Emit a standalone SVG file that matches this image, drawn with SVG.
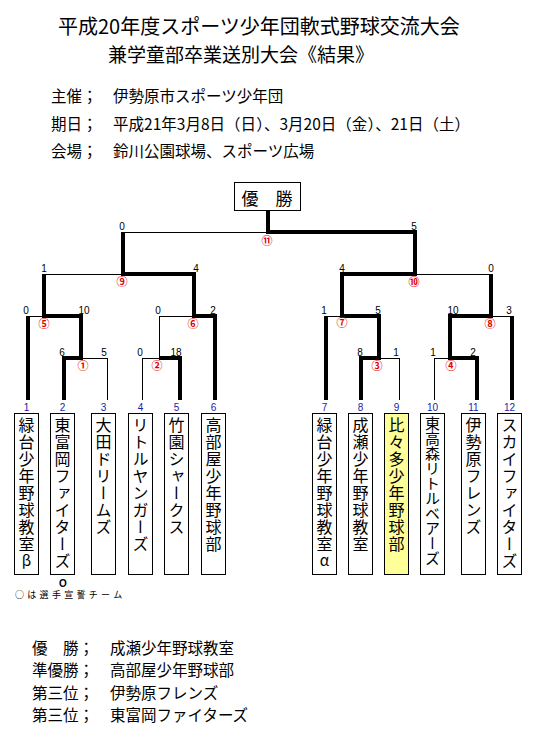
<svg xmlns="http://www.w3.org/2000/svg" width="537" height="731" viewBox="0 0 537 731">
<style>
.t{font-family:"Noto Sans CJK JP","Noto Sans CJK SC",sans-serif;fill:#000}
.title{font-size:20px}
.info{font-size:15.5px}
.sc{font-family:"Liberation Sans",Arial,sans-serif;font-size:10px;fill:#000;text-anchor:middle}
.no{font-family:"Liberation Sans",Arial,sans-serif;font-size:10px;fill:#1a1aa6;text-anchor:middle}
.m{font-family:"Noto Sans CJK JP",sans-serif;font-size:11px;font-weight:bold;fill:#e00000;text-anchor:middle}
.box{fill:#fff;stroke:#000;stroke-width:1}
.v{font-family:"Noto Sans CJK JP","Noto Sans CJK SC",sans-serif;font-size:16px;fill:#000;writing-mode:vertical-rl;letter-spacing:1px}
.g{font-family:"Noto Sans CJK JP",sans-serif;font-size:15px;fill:#000;text-anchor:middle}
.thick{fill:none;stroke:#000;stroke-width:4;stroke-linejoin:miter}
.thin{fill:none;stroke:#000;stroke-width:1;shape-rendering:crispEdges}
</style>
<rect width="537" height="731" fill="#fff"/>
<g id="title" class="t title">
<text x="58" y="34">平成20年度スポーツ少年団軟式野球交流大会</text>
<text x="108" y="62" style="font-size:19px">兼学童部卒業送別大会《結果》</text>
</g>
<g id="info" class="t info">
<text x="51" y="102">主催；</text><text x="113" y="102">伊勢原市スポーツ少年団</text>
<text x="51" y="130">期日；</text><text x="113" y="130" textLength="357" lengthAdjust="spacing">平成21年3月8日（日）、3月20日（金）、21日（土）</text>
<text x="51" y="157">会場；</text><text x="113" y="157">鈴川公園球場、スポーツ広場</text>
</g>
<g id="winner">
<rect x="234.5" y="182.5" width="66" height="28" class="box"/>
<text x="267" y="205" class="t" style="font-size:17px;text-anchor:middle">優　勝</text>
</g>
<g id="connectors">
<path class="thick" d="M268 210 V232 H415 V274 H342 V316 H379 V358 H361 V400"/>
<path class="thick" d="M123 232 V274 H194 V316 H215 V400"/>
<path class="thick" d="M44 274 V316 H81 V358 H64 V400"/>
<path class="thick" d="M28 316 V400"/>
<path class="thick" d="M159 358 H180 V400"/>
<path class="thick" d="M326 316 V400"/>
<path class="thick" d="M491 274 V316 H450 V358 H477 V400"/>
<path class="thick" d="M512 316 V400"/>
<path class="thin" d="M123 232 H268"/>
<path class="thin" d="M44 274 H123"/>
<path class="thin" d="M415 274 H491"/>
<path class="thin" d="M28 316 H44"/>
<path class="thin" d="M159 316 H194 M159 316 V358 M142 358 H159 M142 358 V400"/>
<path class="thin" d="M326 316 H342"/>
<path class="thin" d="M491 316 H512"/>
<path class="thin" d="M81 358 H107 V400"/>
<path class="thin" d="M379 358 H399 V400"/>
<path class="thin" d="M434 400 V358 H450"/>
</g>
<g id="scores">
<text class="sc" x="122" y="230">0</text><text class="sc" x="414" y="230">5</text>
<text class="sc" x="44" y="272">1</text><text class="sc" x="196" y="272">4</text>
<text class="sc" x="342" y="272">4</text><text class="sc" x="491" y="272">0</text>
<text class="sc" x="26" y="314">0</text><text class="sc" x="84" y="314">10</text>
<text class="sc" x="158" y="314">0</text><text class="sc" x="213" y="314">2</text>
<text class="sc" x="324" y="314">1</text><text class="sc" x="378" y="314">5</text>
<text class="sc" x="453" y="314">10</text><text class="sc" x="509" y="314">3</text>
<text class="sc" x="62" y="356">6</text><text class="sc" x="104" y="356">5</text>
<text class="sc" x="140" y="356">0</text><text class="sc" x="176" y="356">18</text>
<text class="sc" x="360" y="356">8</text><text class="sc" x="396" y="356">1</text>
<text class="sc" x="433" y="356">1</text><text class="sc" x="473" y="356">2</text>
</g>
<g id="matches">
<text class="m" x="267" y="245">⑪</text>
<text class="m" x="122" y="286">⑨</text>
<text class="m" x="414" y="286">⑩</text>
<text class="m" x="44" y="328">⑤</text>
<text class="m" x="193" y="328">⑥</text>
<text class="m" x="342" y="327">⑦</text>
<text class="m" x="490" y="328">⑧</text>
<text class="m" x="83" y="370">①</text>
<text class="m" x="157" y="370">②</text>
<text class="m" x="377" y="370">③</text>
<text class="m" x="451" y="370">④</text>
</g>
<g id="team1"><text class="no" x="26.5" y="411">1</text><rect class="box" x="14.5" y="413.5" width="24" height="161"/><text class="v" x="26.5" y="417">緑台少年野球教室</text><text class="g" x="26.5" y="566">β</text></g>
<g id="team2"><text class="no" x="62.5" y="411">2</text><rect class="box" x="50.5" y="413.5" width="24" height="161"/><text class="v" x="62.5" y="417">東富岡ファイターズ</text></g>
<g id="team3"><text class="no" x="103.5" y="411">3</text><rect class="box" x="91.5" y="413.5" width="24" height="161"/><text class="v" x="103.5" y="417">大田ドリームズ</text></g>
<g id="team4"><text class="no" x="140.5" y="411">4</text><rect class="box" x="128.5" y="413.5" width="24" height="161"/><text class="v" x="140.5" y="417">リトルヤンガーズ</text></g>
<g id="team5"><text class="no" x="176.5" y="411">5</text><rect class="box" x="164.5" y="413.5" width="24" height="161"/><text class="v" x="176.5" y="417">竹園シャークス</text></g>
<g id="team6"><text class="no" x="213.5" y="411">6</text><rect class="box" x="201.5" y="413.5" width="24" height="161"/><text class="v" x="213.5" y="417">高部屋少年野球部</text></g>
<g id="team7"><text class="no" x="324.5" y="411">7</text><rect class="box" x="312.5" y="413.5" width="24" height="161"/><text class="v" x="324.5" y="417">緑台少年野球教室</text><text class="g" x="324.5" y="566">α</text></g>
<g id="team8"><text class="no" x="360.5" y="411">8</text><rect class="box" x="348.5" y="413.5" width="24" height="161"/><text class="v" x="360.5" y="417">成瀬少年野球教室</text></g>
<g id="team9"><text class="no" x="396.5" y="411">9</text><rect class="box" x="384.5" y="413.5" width="24" height="161" style="fill:#ffff99"/><text class="v" x="396.5" y="417">比々多少年野球部</text></g>
<g id="team10"><text class="no" x="432.5" y="411">10</text><rect class="box" x="420.5" y="413.5" width="24" height="161"/><text class="v" x="432.5" y="416" style="font-size:15px;letter-spacing:0">東高森リトルベアーズ</text></g>
<g id="team11"><text class="no" x="473.5" y="411">11</text><rect class="box" x="461.5" y="413.5" width="24" height="161"/><text class="v" x="473.5" y="417">伊勢原フレンズ</text></g>
<g id="team12"><text class="no" x="509.5" y="411">12</text><rect class="box" x="497.5" y="413.5" width="24" height="161"/><text class="v" x="509.5" y="417">スカイファイターズ</text></g>
<g id="legend">
<text x="63" y="587" style="font-family:'Liberation Sans',Arial,sans-serif;font-size:10px;font-weight:bold;text-anchor:middle">O</text>
<text x="15" y="598" class="t" style="font-size:9px;letter-spacing:3.3px">○は選手宣誓チーム</text>
</g>
<g id="results" class="t info">
<text x="32" y="654">優　勝；</text><text x="110" y="654">成瀬少年野球教室</text>
<text x="32" y="676">準優勝；</text><text x="110" y="676">高部屋少年野球部</text>
<text x="32" y="699">第三位；</text><text x="110" y="699">伊勢原フレンズ</text>
<text x="32" y="721">第三位；</text><text x="110" y="721">東富岡ファイターズ</text>
</g>
</svg>
